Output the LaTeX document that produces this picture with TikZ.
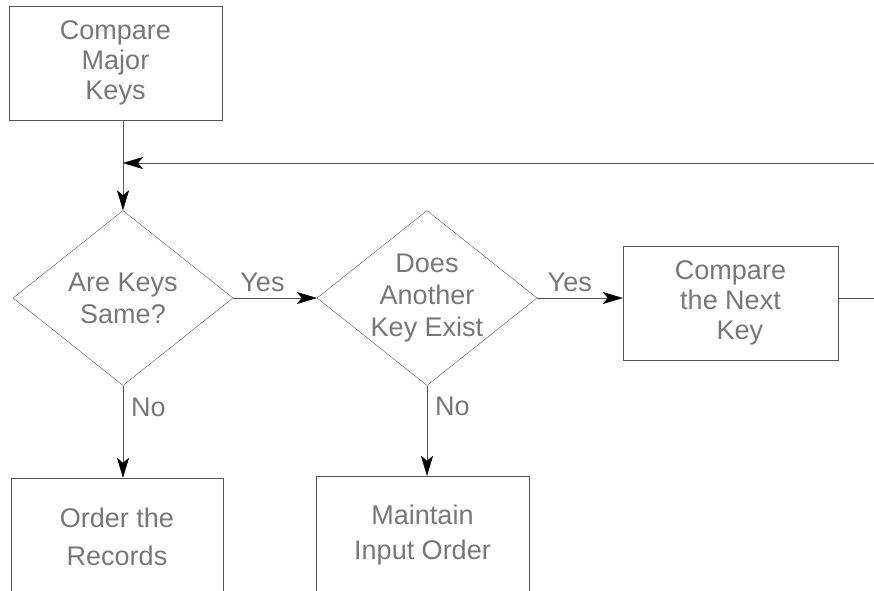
\documentclass[tikz,border=0pt]{standalone}
\usepackage{fontspec}
\setmainfont{Liberation Sans}
\usepackage{tikz}
\usetikzlibrary{positioning, shapes.geometric, arrows.meta}
\usepackage{xcolor}
\definecolor{linegray}{HTML}{555555}
\definecolor{textgray}{HTML}{777777}

\begin{document}
\begin{tikzpicture}[x=1pt, y=-1pt, font=\fontsize{27}{30}\selectfont,
  box/.style={rectangle, draw=linegray, text=textgray, inner sep=0pt, align=center},
  decision/.style={diamond, draw=linegray, text=textgray, inner sep=-16pt, align=center, minimum width=220pt, minimum height=175pt},
  flow/.style={draw=linegray, -{Stealth[color=black, length=20pt, width=12pt, inset=5pt]}},
  lbl/.style={text=textgray, inner sep=0pt}]
%

%help grid and labels
%\draw[help lines] (0,0) grid[step=50] (874,590);

\useasboundingbox (0,0) rectangle (874,590);
\clip (0,0) rectangle (874,590);

%%% nodes and boxes

%%% MAJOR KEYS
\node [box, minimum width=213pt, minimum height=114pt] (major) at (115.5,63) {Compare\\Major\\Keys};

%%% DECISIONS
\node [decision, font=\fontsize{27}{32}\selectfont] (same) at (123,298) {Are Keys\\Same?};
\node [decision, font=\fontsize{27}{32}\selectfont] (another) at (427,298) {Does\\Another\\Key Exist};

%%% NEXT KEY
\node [box, minimum width=215pt, minimum height=114pt] (nextkey) at (730.5,303) {Compare\\the Next\\\hspace*{0.7em}Key};

%%% RESULTS
\node [box, minimum width=212pt, minimum height=118pt] (order) at (117,537) {Order the\\[8pt]Records};
\node [box, minimum width=213pt, minimum height=118pt] (keep) at (422.5,535) {Maintain\\[5pt]Input Order};

%%% loop ends at the border
\coordinate (loop-in) at (874,163);
\coordinate (loop-out) at (874,298);

%%% connections, arrows

\draw [flow] (same.north |- major.south) -- (same.north);
\draw [flow] (loop-in) -- (loop-in -| same.north);
\draw [draw=linegray] (nextkey.east |- loop-out) -- (loop-out);

\draw [flow] (same.east) -- node[lbl, pos=0.35, anchor=base, yshift=7pt] {Yes} (another.west);
\draw [flow] (another.east) -- node[lbl, pos=0.38, anchor=base, yshift=7pt] {Yes} (nextkey.west |- another.east);

\draw [flow] (same.south) -- node[lbl, pos=0.33, anchor=base west, xshift=8pt] {No} (order.north -| same.south);
\draw [flow] (another.south) -- node[lbl, pos=0.33, anchor=base west, xshift=8pt] {No} (keep.north -| another.south);

\end{tikzpicture}
\end{document}
